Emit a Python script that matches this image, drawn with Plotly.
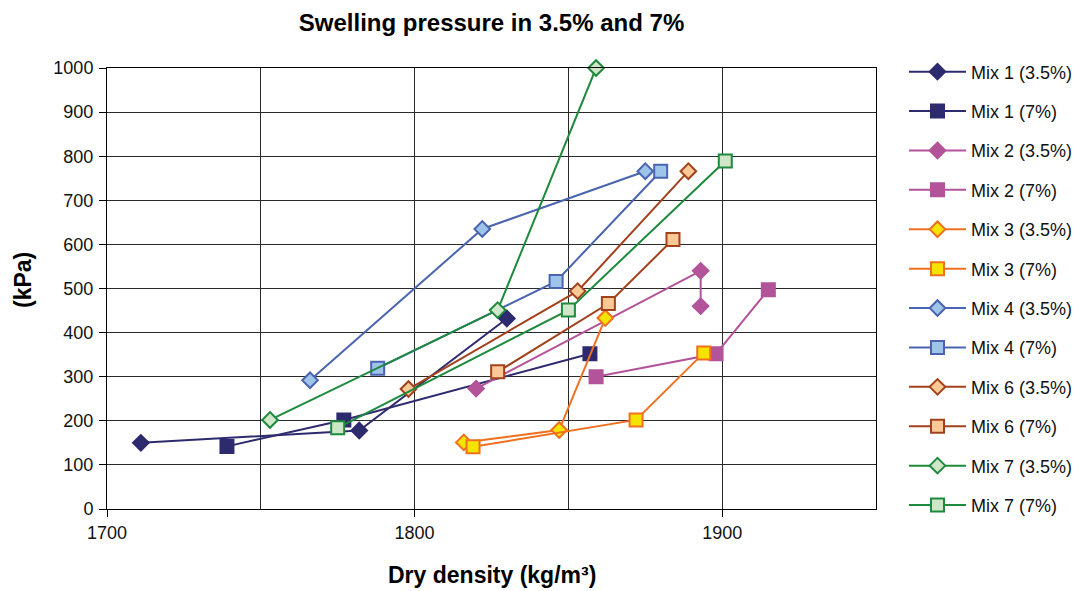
import plotly.graph_objects as go

# ---- data (dry density kg/m3, swelling pressure kPa) ----
mix1_35_x = [1711, 1782, 1830]
mix1_35_y = [150, 178, 432]
mix1_7_x = [1739, 1777, 1857]
mix1_7_y = [142, 202, 352]
mix2_35_x = [1820, 1893, 1893]
mix2_35_y = [273, 540, 460]
mix2_7_x = [1859, 1898, 1915]
mix2_7_y = [300, 352, 497]
mix3_35_x = [1816, 1847, 1862]
mix3_35_y = [151, 179, 433]
mix3_7_x = [1819, 1872, 1894]
mix3_7_y = [141, 202, 354]
mix4_35_x = [1766, 1822, 1875]
mix4_35_y = [292, 635, 766]
mix4_7_x = [1788, 1846, 1880]
mix4_7_y = [319, 516, 766]
mix6_35_x = [1798, 1853, 1889]
mix6_35_y = [272, 494, 766]
mix6_7_x = [1827, 1863, 1884]
mix6_7_y = [311, 466, 611]
mix7_35_x = [1753, 1827, 1859]
mix7_35_y = [202, 451, 1000]
mix7_7_x = [1775, 1850, 1901]
mix7_7_y = [184, 451, 789]

series_names = ["Mix 1 (3.5%)", "Mix 1 (7%)", "Mix 2 (3.5%)", "Mix 2 (7%)",
                "Mix 3 (3.5%)", "Mix 3 (7%)", "Mix 4 (3.5%)", "Mix 4 (7%)",
                "Mix 6 (3.5%)", "Mix 6 (7%)", "Mix 7 (3.5%)", "Mix 7 (7%)"]
series_x = [mix1_35_x, mix1_7_x, mix2_35_x, mix2_7_x, mix3_35_x, mix3_7_x,
            mix4_35_x, mix4_7_x, mix6_35_x, mix6_7_x, mix7_35_x, mix7_7_x]
series_y = [mix1_35_y, mix1_7_y, mix2_35_y, mix2_7_y, mix3_35_y, mix3_7_y,
            mix4_35_y, mix4_7_y, mix6_35_y, mix6_7_y, mix7_35_y, mix7_7_y]

# styles: (line colour, fill colour)
mix_styles = {
    "Mix 1": ("#2E2A6E", "#2E2A6E"),
    "Mix 2": ("#B3539A", "#B3539A"),
    "Mix 3": ("#F07020", "#F5E400"),
    "Mix 4": ("#4A64B0", "#9EC4EA"),
    "Mix 6": ("#A3411C", "#FCC896"),
    "Mix 7": ("#1E8A3C", "#CFE6C8"),
}

FONT = "Liberation Sans, Arial, sans-serif"

fig = go.Figure()
for i, (name, xs, ys) in enumerate(zip(series_names, series_x, series_y)):
    mix = name.split(" (")[0]
    line_c, fill_c = mix_styles[mix]
    is_sq = "(7%)" in name
    fig.add_trace(go.Scatter(
        x=xs, y=ys, name=name, mode="lines+markers",
        legendgroup=name,
        line=dict(color=line_c, width=2),
        marker=dict(symbol="square" if is_sq else "diamond",
                    size=13 if is_sq else 12,
                    color=fill_c,
                    line=dict(color=line_c, width=2)),
        cliponaxis=False,
    ))

# page body has an 8px margin, so the figure is 8px smaller than the window
W, H = 1075, 583
L, T, PW, PH = 99, 60, 769, 441

fig.update_layout(
    width=W, height=H,
    paper_bgcolor="white", plot_bgcolor="white",
    margin=dict(l=L, r=W - L - PW, t=T, b=H - T - PH, autoexpand=False),
    font=dict(family=FONT, size=18, color="#111"),
    title=dict(text="<b>Swelling pressure in 3.5% and 7%</b>",
               x=(L + PW / 2) / W, xanchor="center",
               y=1 - 15 / H, yanchor="middle",
               font=dict(family=FONT, size=24, color="#000")),
    showlegend=True,
    legend=dict(x=1.0364, y=1.033, xanchor="left", yanchor="top",
                traceorder="grouped", tracegroupgap=13, maxheight=580,
                itemwidth=57, font=dict(family=FONT, size=18, color="#111"),
                bgcolor="rgba(0,0,0,0)"),
)

fig.update_xaxes(
    range=[1700, 1950], tickvals=[1700, 1800, 1900],
    ticks="outside", ticklen=7, tickcolor="#000",
    showgrid=True, gridcolor="#2a2a2a", gridwidth=1,
    minor=dict(dtick=50, showgrid=True, gridcolor="#2a2a2a", gridwidth=1, ticks=""),
    showline=True, linecolor="#000", linewidth=1, mirror=True,
    zeroline=False, tickfont=dict(size=18), ticklabelstandoff=0,
)
fig.update_yaxes(
    range=[0, 1000], dtick=100,
    ticks="outside", ticklen=7, tickcolor="#000",
    showgrid=True, gridcolor="#2a2a2a", gridwidth=1,
    showline=True, linecolor="#000", linewidth=1, mirror=True,
    zeroline=False, tickfont=dict(size=18), ticklabelstandoff=2,
)

fig.add_annotation(text="<b>Dry density (kg/m³)</b>", xref="paper", yref="paper",
                   x=0.5, y=-(575 - 509) / PH, xanchor="center", yanchor="middle",
                   showarrow=False, font=dict(family=FONT, size=23, color="#000"))
fig.add_annotation(text="<b>(kPa)</b>", xref="paper", yref="paper",
                   x=-(107 - 23) / PW, y=(509 - 280) / PH, xanchor="center", yanchor="middle",
                   textangle=-90,
                   showarrow=False, font=dict(family=FONT, size=23, color="#000"))

fig.write_html("out.html")
